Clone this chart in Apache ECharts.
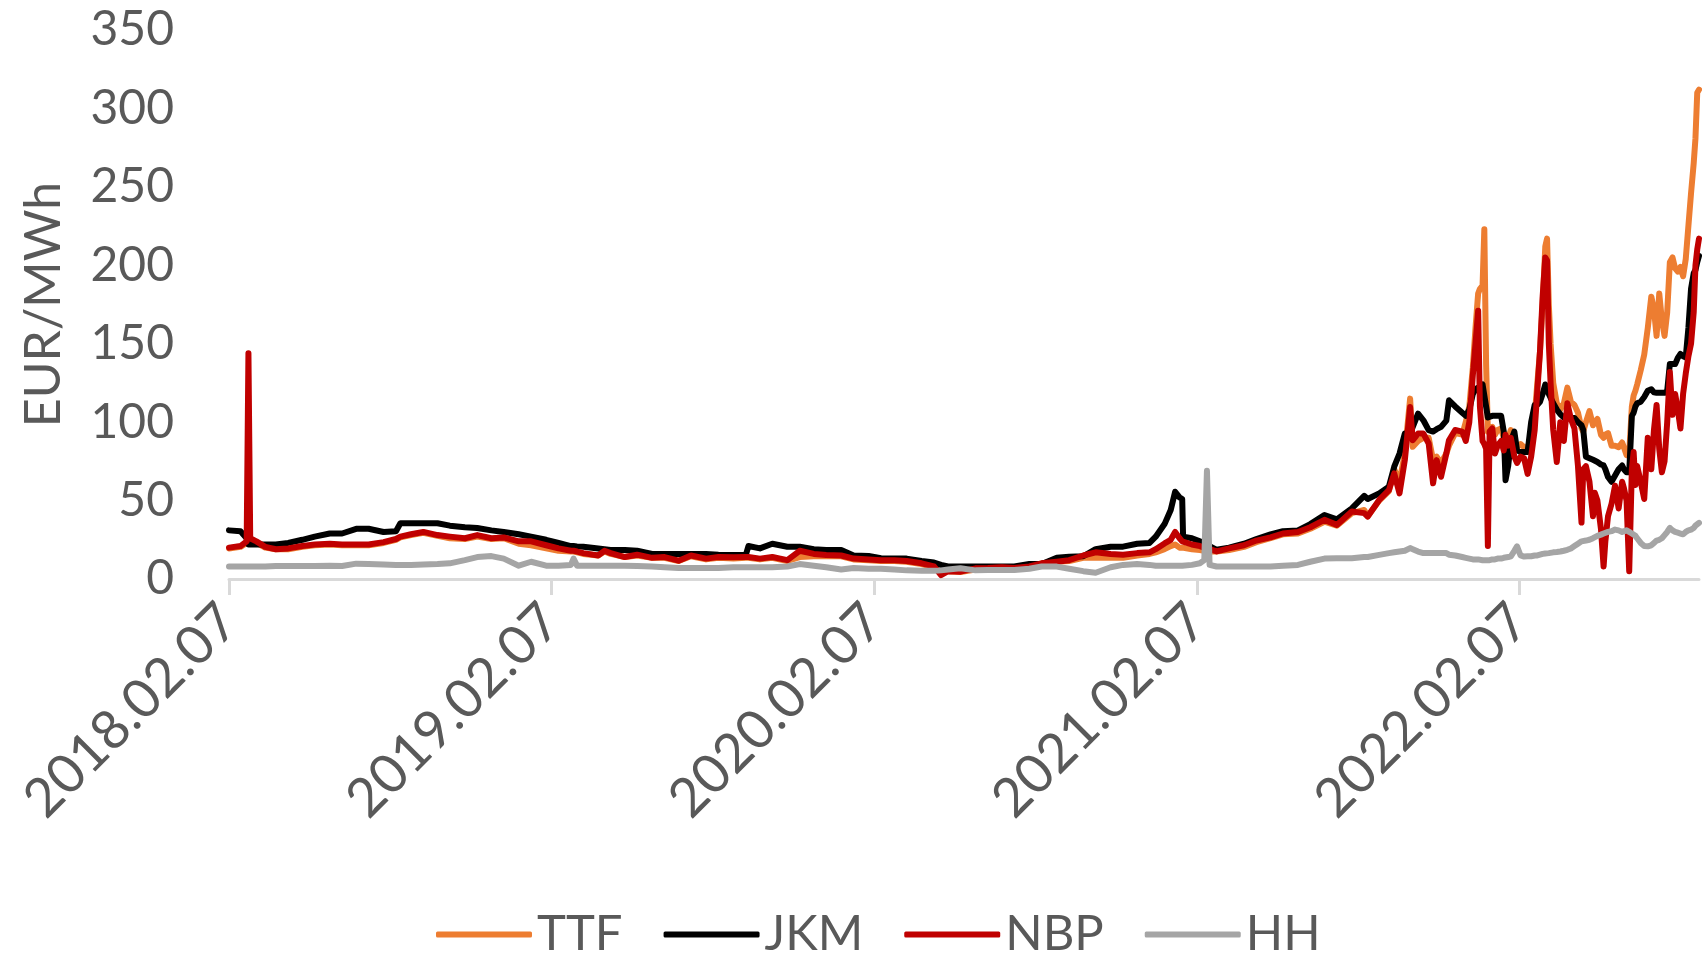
<!DOCTYPE html>
<html>
<head>
<meta charset="utf-8">
<script src="https://cdn.jsdelivr.net/npm/echarts@6/dist/echarts.min.js"></script>
<style>
  html, body { margin: 0; padding: 0; background: #ffffff; }
  #chart { width: 1703px; height: 959px; }
</style>
</head>
<body>
<div id="chart"></div>
<script>
// Gas hub prices, EUR/MWh
const dates = [
  '2018-02-07','2018-02-20','2018-02-27','2018-03-01','2018-03-03','2018-03-10','2018-03-20','2018-04-01','2018-04-15','2018-05-01',
  '2018-05-15','2018-06-01','2018-06-15','2018-07-01','2018-07-15','2018-08-01','2018-08-15','2018-08-20','2018-09-01','2018-09-15',
  '2018-10-01','2018-10-15','2018-11-01','2018-11-15','2018-12-01','2018-12-15','2019-01-01','2019-01-15','2019-02-01','2019-02-15',
  '2019-03-01','2019-03-04','2019-03-08','2019-03-15','2019-04-01','2019-04-08','2019-04-15','2019-05-01','2019-05-15','2019-06-01',
  '2019-06-15','2019-07-01','2019-07-15','2019-08-01','2019-08-15','2019-09-01','2019-09-15','2019-09-18','2019-10-01','2019-10-15',
  '2019-11-01','2019-11-15','2019-12-01','2019-12-15','2020-01-01','2020-01-15','2020-02-01','2020-02-15','2020-03-01','2020-03-15',
  '2020-04-01','2020-04-15','2020-04-23','2020-05-01','2020-05-15','2020-06-01','2020-06-15','2020-07-01','2020-07-15','2020-08-01',
  '2020-08-15','2020-09-01','2020-09-15','2020-10-01','2020-10-15','2020-11-01','2020-11-15','2020-12-01','2020-12-15','2020-12-22',
  '2021-01-01','2021-01-08','2021-01-13','2021-01-18','2021-01-21','2021-01-22','2021-02-01','2021-02-10','2021-02-15','2021-02-18',
  '2021-02-21','2021-03-01','2021-03-15','2021-04-01','2021-04-15','2021-05-01','2021-05-15','2021-06-01','2021-06-15','2021-07-01',
  '2021-07-15','2021-08-01','2021-08-15','2021-08-19','2021-09-01','2021-09-12','2021-09-18','2021-09-24','2021-09-30','2021-10-06',
  '2021-10-09','2021-10-15','2021-10-21','2021-10-27','2021-11-01','2021-11-05','2021-11-10','2021-11-16','2021-11-19','2021-11-26',
  '2021-12-04','2021-12-08','2021-12-12','2021-12-16','2021-12-19','2021-12-22','2021-12-24','2021-12-27','2021-12-29','2021-12-31',
  '2022-01-02','2022-01-04','2022-01-07','2022-01-10','2022-01-13','2022-01-17','2022-01-20','2022-01-22','2022-01-25','2022-01-28',
  '2022-02-01','2022-02-04','2022-02-08','2022-02-12','2022-02-16','2022-02-20','2022-02-24','2022-02-27','2022-03-02','2022-03-05',
  '2022-03-08','2022-03-10','2022-03-12','2022-03-14','2022-03-17','2022-03-21','2022-03-25','2022-03-29','2022-04-02','2022-04-06',
  '2022-04-10','2022-04-14','2022-04-18','2022-04-20','2022-04-23','2022-04-27','2022-05-01','2022-05-03','2022-05-06','2022-05-10',
  '2022-05-13','2022-05-15','2022-05-18','2022-05-22','2022-05-26','2022-05-30','2022-06-03','2022-06-05','2022-06-08','2022-06-11',
  '2022-06-14','2022-06-16','2022-06-18','2022-06-20','2022-06-24','2022-06-28','2022-07-02','2022-07-06','2022-07-09','2022-07-12',
  '2022-07-15','2022-07-18','2022-07-21','2022-07-24','2022-07-27','2022-07-30','2022-08-02','2022-08-05','2022-08-08','2022-08-11',
  '2022-08-14','2022-08-17','2022-08-20','2022-08-23','2022-08-25','2022-08-27','2022-08-29'
];

const ttf = [
  19.5,20.5,23,36,24,23,20,19,19,20.5,
  21.5,22,21.5,21.5,21.5,23,25,26.5,28,29.5,
  27.5,26,25.5,27,25.5,26,22.5,21.5,19.5,18,
  17.5,17.5,17,16,15,17.5,16,14,15,13.5,
  13.5,11.5,14.5,12.5,13.5,13,13.5,13.5,12.5,13.5,
  11.5,14,14.5,14.5,14.5,12.5,12,11.5,11.5,11,
  9.5,7.5,4,5,4.5,6,6.5,7,7,8,
  10,11,11.5,13.5,13.5,13.5,13.5,15,16,17,
  19,21,22,20,20,19.5,19,18.5,18,18,
  17.5,17.5,18.5,20.5,23.5,26,28.5,29,32,36.5,
  34,42,44,40,50,56,70,62,80,115,
  84.3,88,90,90,75.8,78,74,80,85,93,
  92,100,110,135,160,182,185,187,223,137,
  94,96,97,92,95,96,90,92,90,95,
  88,84,86,84,83,92,104,125,145,175,
  212,217,175,150,125,112,108,112,122,113,
  111,106,96,94,100,107,98,100,102,92,
  90,92,93,85,85,84,87,84,79,80,
  110,117,120,124,133,143,160,180,172,155,
  182,165,155,170,202,205,198,196,199,193,
  204,225,246,265,281,310,312
];

const jkm = [
  31,30.5,26,22,22,22,22,22,23,25,
  27,29,29,32,32,30,30.5,35.5,35.5,35.5,
  35.5,34,33,32.5,31,30,28.5,27,25,23,
  21,21,20.8,20.6,19.5,19,18.5,18.5,18,16,
  16,16,16,16,15.5,15.3,15.3,21,19.5,22.5,
  20.6,20.6,19,18.5,18.5,15,14.7,13.2,13,13,
  11.5,10.5,9,8,8,7.9,7.9,7.9,8,9.6,
  9.6,13.5,14.2,14.5,19,20.6,20.6,22.5,23,27,
  35,44,55.6,52,51,27,26,24,23,22,
  21,18.6,20,22.5,25.5,28.5,30.5,31,35,40.8,
  38,45,53,51,54.6,58.9,71.6,80,92.7,92.7,
  97,105.4,101.2,94.9,94,95.5,97,101,113.9,110,
  106,104,108,118,121,122,123,124,124,110,
  103,103,104,104,104,104,94,63,72,88,
  94,82,81,81,81,100,111,111,113,118,
  124,124,118,115.5,112,108,105,103,102.6,102.6,
  102.6,100,98,95,78,77,76,75,74.6,73,
  72.4,70,65,62,66,70,72.4,70,68,68,
  104,106,110,112,113,116,120,121,119,118.7,
  118.7,118.7,118.7,120,137,137,137,141,143.5,142,
  141.3,160,185,195,197,202,206
];

const nbp = [
  20,21,24,144,26,24,20.5,19,19.5,21,
  22,22.5,22,22,22,23.5,25.5,27,28.5,30,
  28,27,26,28,26,26.5,24,24,21.5,19.5,
  18,18,17.5,16.5,15,18,16.5,14,15.5,13.5,
  14,11.7,15,13,14,13.8,14,14,13,14,
  12,18,16,15.3,15,13,12.5,12,12,11.5,
  10,8,2.5,5,4.7,6.8,7,7.5,7,8,
  10,11,12,15,17,16,15.5,16.5,17,19,
  22.7,25,30,26,24,23,22,21,20,19.5,
  19,17.6,19.5,21.5,24.5,26.5,29,30,33,37.7,
  34.5,43,42,39.8,50.4,56.7,67.3,54.6,75.8,109.7,
  88.5,92.7,92.7,86.4,61,75.8,65.2,80,88.5,95,
  94,88,100,130,150,171,110,88,86,83,
  21,94,96,80,85,88,82,92,85,90,
  78,74,78,77,67,78,95,120,145,180,
  205,203,150,125,95,74.6,100,88,112,102,
  96,72,36,70,72,62,40,55,50,32,
  8,24,40,48,59.5,45,62,58,50,5,
  70,81,60,72,62,51,90,70,95,111,
  83,68,75,100,132,104.7,118,108,96,118,
  131,142,150,170,200,210,217
];

const hh = [
  8,8,8,8,8,8,8,8.3,8.3,8.3,
  8.3,8.5,8.3,9.8,9.5,9.3,9,9,9,9.3,
  9.5,10,12,14,14.6,13,8.5,11,8.5,8.5,
  9,13,8.5,8.5,8.5,8.5,8.5,8.5,8.3,8,
  7.5,7,7,7,7,7.5,7.5,7.5,7.5,7.5,
  8,9.5,8.5,7.5,6,7,6.5,6.5,6,5.5,
  5.3,5.3,5.5,6,6.8,5.5,5.7,5.7,5.7,6.5,
  8,7.9,6.5,5,4,7.5,9,9.5,9,8.5,
  8.5,8.5,8.5,8.5,8.5,8.5,9,10,12,69,
  9,8,8,8,8,8,8.5,9,11,13,
  13.3,13.3,14,14,15.4,16.5,17,17.5,18,19.7,
  19,17.5,16.5,16.5,16.5,16.5,16.5,16.5,15.5,15,
  14,13.5,13,12.5,12.5,12.5,12,12,12,12,
  12,12,12.5,12.5,13,13,13.5,14,14,14.5,
  18,20.8,15,14.3,14.5,14.5,15,15,15.5,16,
  16.3,16.5,16.5,16.7,17,17.2,17.5,18,18.6,19.5,
  21,22.5,24,24,24.5,25,26,26.5,27.5,28.3,
  29,29.5,30,30.5,31.5,31,30,30,31,30,
  29,28.5,27.5,26,23,21,20.8,21.5,23,24.5,
  25,26,28,30,32.6,31,30,29.5,29,28.5,
  30,31,31.5,32.5,34,35,35.8
];

const seriesNames = ['TTF', 'JKM', 'NBP', 'HH'];
const seriesColors = ['#ED7D31', '#000000', '#C00000', '#A5A5A5'];
const tickLabels = ['2018.02.07', '2019.02.07', '2020.02.07', '2021.02.07', '2022.02.07'];

// x values are days elapsed since the first tick date
const origin = Date.UTC(2018, 1, 7);
function dayOf(str) {
  const p = str.split(/[-.]/).map(Number);
  return (Date.UTC(p[0], p[1] - 1, p[2]) - origin) / 86400000;
}
const xDays = dates.map(dayOf);
const tickDays = tickLabels.map(dayOf);

function pairs(values) {
  return values.map((v, i) => [xDays[i], v]);
}

const FONT = 'Lato';
const TEXT = '#595959';

const chart = echarts.init(document.getElementById('chart'), null, { renderer: 'canvas' });
chart.setOption({
  animation: false,
  backgroundColor: '#ffffff',
  textStyle: { fontFamily: FONT },
  grid: { left: 229, right: 4, top: 30, bottom: 380, containLabel: false },
  legend: {
    left: 431,
    top: 905,
    icon: 'roundRect',
    itemWidth: 96,
    itemHeight: 6,
    itemGap: 41,
    textStyle: { fontFamily: FONT, fontSize: 49, color: TEXT },
    data: seriesNames
  },
  xAxis: {
    type: 'value',
    min: 0,
    max: xDays[xDays.length - 1],
    axisLine: { show: true, lineStyle: { color: '#d9d9d9', width: 3 } },
    axisTick: { show: true, customValues: tickDays, length: 16, lineStyle: { color: '#d9d9d9', width: 3 } },
    splitLine: { show: false },
    axisLabel: {
      customValues: tickDays,
      rotate: 45,
      margin: 34,
      fontFamily: FONT,
      fontSize: 54,
      color: TEXT,
      formatter: function (v) {
        const i = tickDays.findIndex(t => Math.abs(t - v) < 1);
        return i >= 0 ? tickLabels[i] : '';
      }
    }
  },
  yAxis: {
    type: 'value',
    min: 0,
    max: 350,
    interval: 50,
    name: 'EUR/MWh',
    nameLocation: 'middle',
    nameGap: 160,
    nameTextStyle: { fontFamily: FONT, fontSize: 50, color: TEXT },
    axisLine: { show: false },
    axisTick: { show: false },
    splitLine: { show: false },
    axisLabel: { margin: 55, fontFamily: FONT, fontSize: 48, color: TEXT }
  },
  series: [ttf, jkm, nbp, hh].map((vals, k) => ({
    name: seriesNames[k],
    type: 'line',
    data: pairs(vals),
    showSymbol: false,
    symbol: 'none',
    color: seriesColors[k],
    lineStyle: { color: seriesColors[k], width: 6, cap: 'round', join: 'round' },
    emphasis: { disabled: true }
  }))
});
</script>
</body>
</html>
